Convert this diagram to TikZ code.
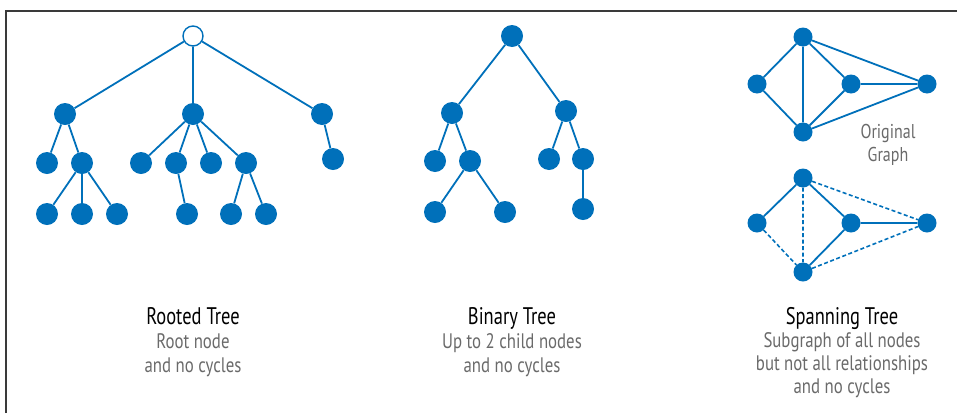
\documentclass[tikz,border=0pt]{standalone}
\usepackage{fontspec}
\setmainfont{PT Sans}[FakeStretch=0.8]
\newfontfamily\ttlfont{PT Sans}[FakeStretch=0.77]
\definecolor{nodeblue}{HTML}{0070BA}
\definecolor{capgray}{HTML}{6A6A6A}
\definecolor{framegray}{HTML}{3A3A3A}
\tikzset{
  vtx/.style={circle, fill=nodeblue, minimum size=22pt, inner sep=0pt},
  svtx/.style={circle, fill=nodeblue, minimum size=19pt, inner sep=0pt},
  rootvtx/.style={circle, draw=nodeblue, fill=white, line width=1.4pt, minimum size=20pt, inner sep=0pt},
  edge/.style={draw=nodeblue, line width=1.8pt},
  dedge/.style={draw=nodeblue, line width=1.6pt, dash pattern=on 4pt off 2.5pt},
  ttltext/.style={anchor=base, text=black, font=\ttlfont\fontsize{24}{27}\selectfont, inner sep=0pt},
  captext/.style={anchor=base, text=capgray, font=\fontsize{21}{24}\selectfont, inner sep=0pt}
}
\begin{document}
\begin{tikzpicture}[x=1pt,y=-1pt]
\useasboundingbox (0,0) rectangle (957,413);
\draw[framegray, line width=2pt] (6,413) -- (6,10.5) -- (957,10.5);

% Rooted tree
\node[rootvtx] (r0) at (193,36) {};
\node[vtx] (ra) at (65,114) {};
\node[vtx] (rb) at (193,114) {};
\node[vtx] (rc) at (322,114) {};
\node[vtx] (ra1) at (47,163) {};
\node[vtx] (ra2) at (82,163) {};
\node[vtx] (rb1) at (141,163) {};
\node[vtx] (rb2) at (176,163) {};
\node[vtx] (rb3) at (211,163) {};
\node[vtx] (rb4) at (246,163) {};
\node[vtx] (rc1) at (333,159) {};
\node[vtx] (ra21) at (47,214) {};
\node[vtx] (ra22) at (82,214) {};
\node[vtx] (ra23) at (117,214) {};
\node[vtx] (rb21) at (187,214) {};
\node[vtx] (rb41) at (231,214) {};
\node[vtx] (rb42) at (266,214) {};
\draw[edge] (r0) -- (ra) (r0) -- (rb) (r0) -- (rc)
  (ra) -- (ra1) (ra) -- (ra2) (ra2) -- (ra21) (ra2) -- (ra22) (ra2) -- (ra23)
  (rb) -- (rb1) (rb) -- (rb2) (rb) -- (rb3) (rb) -- (rb4)
  (rb2) -- (rb21) (rb4) -- (rb41) (rb4) -- (rb42)
  (rc) -- (rc1);

% Binary tree
\node[vtx] (s0) at (512,36) {};
\node[vtx] (s1) at (452,113) {};
\node[vtx] (s2) at (566,111) {};
\node[vtx] (s11) at (435,161) {};
\node[vtx] (s12) at (470,161) {};
\node[vtx] (s21) at (549,159) {};
\node[vtx] (s22) at (583,159) {};
\node[vtx] (s121) at (435,212) {};
\node[vtx] (s122) at (505,212) {};
\node[vtx] (s221) at (583,209) {};
\draw[edge] (s0) -- (s1) (s0) -- (s2) (s1) -- (s11) (s1) -- (s12)
  (s12) -- (s121) (s12) -- (s122) (s2) -- (s21) (s2) -- (s22) (s22) -- (s221);

% Original graph
\node[svtx] (gt) at (803,37) {};
\node[svtx] (gl) at (757,84) {};
\node[svtx] (gm) at (851,84) {};
\node[svtx] (gr) at (927,84) {};
\node[svtx] (gb) at (803,132) {};
\draw[edge] (gt) -- (gl) (gt) -- (gb) (gt) -- (gm) (gt) -- (gr)
  (gl) -- (gb) (gm) -- (gb) (gm) -- (gr) (gb) -- (gr);
\node[captext, font=\fontsize{20}{23}\selectfont] (og1) at (888,138) {Original};
\node[captext, font=\fontsize{20}{23}\selectfont] (og2) at (888,161) {Graph};

% Spanning tree
\node[svtx] (ht) at (803,178) {};
\node[svtx] (hl) at (757,223) {};
\node[svtx] (hm) at (851,223) {};
\node[svtx] (hr) at (927,223) {};
\node[svtx] (hb) at (803,272) {};
\draw[edge] (ht) -- (hl) (ht) -- (hm) (hm) -- (hr) (hm) -- (hb);
\draw[dedge] (ht) -- (hb) (ht) -- (hr) (hl) -- (hb) (hb) -- (hr);

% Captions
\node[ttltext] (t1) at (193,324) {Rooted Tree};
\node[captext] (c11) at (193,348) {Root node};
\node[captext] (c12) at (193,372) {and no cycles};
\node[ttltext] (t2) at (512,324) {Binary Tree};
\node[captext] (c21) at (512,348) {Up to 2 child nodes};
\node[captext] (c22) at (512,372) {and no cycles};
\node[ttltext] (t3) at (842,324) {Spanning Tree};
\node[captext] (c31) at (842,347) {Subgraph of all nodes};
\node[captext] (c32) at (842,370) {but not all relationships};
\node[captext] (c33) at (842,393) {and no cycles};
\end{tikzpicture}
\end{document}
